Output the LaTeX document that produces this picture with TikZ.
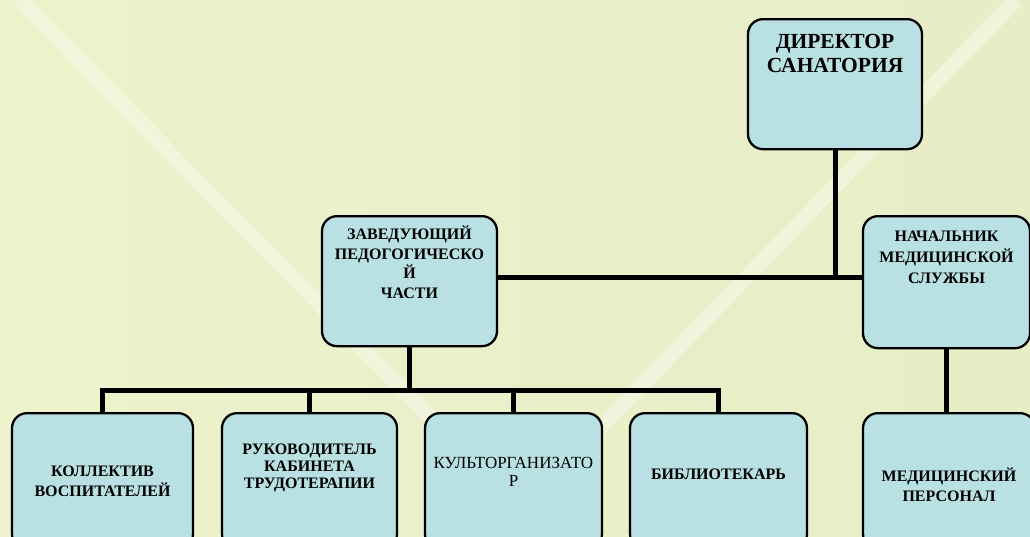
\documentclass[tikz,border=0pt]{standalone}
\usepackage{fontspec}
\setmainfont{Liberation Serif}
\definecolor{paperleft}{HTML}{EDF2CB}
\definecolor{paperright}{HTML}{E6EEC6}
\definecolor{paperlight}{HTML}{F3F6E1}
\definecolor{postblue}{HTML}{B9E0E3}
\tikzset{
  post/.style 2 args={draw=black, line width=2.3pt, fill=postblue, rounded corners=15pt, anchor=north, align=center, inner xsep=2pt, inner ysep=0pt, text height=#1, text depth=#2, font=\fontsize{16}{18}\selectfont\bfseries},
  link/.style={line width=5pt},
  stripe/.style={paperlight, line width=15pt, opacity=0.8}
}
\begin{document}
\begin{tikzpicture}[x=1pt, y=-1pt]
		\useasboundingbox (0, 0) rectangle (1030, 536);
		\clip (0, 0) rectangle (1030, 536);
		\shade[left color=paperleft, right color=paperright] (0, 0) rectangle (1030, 536);
		\draw[stripe] (20, 0) -- (580, 570);
		\draw[stripe] (1016, 0) -- (462, 570);
		\node[post={53pt}{77pt}, minimum width=174pt, font=\fontsize{21.5}{24}\selectfont\bfseries] (director) at (835, 18) {ДИРЕКТОР\\САНАТОРИЯ};
		\node[post={82pt}{48pt}, minimum width=175pt, font=\fontsize{16}{19.5}\selectfont\bfseries] (pedhead) at (409.5, 215) {ЗАВЕДУЮЩИЙ\\ПЕДОГОГИЧЕСКО\\Й\\ЧАСТИ};
		\node[post={67pt}{65pt}, minimum width=167pt, font=\fontsize{16}{21}\selectfont\bfseries] (medhead) at (946.5, 215) {НАЧАЛЬНИК\\МЕДИЦИНСКОЙ\\СЛУЖБЫ};
		\node[post={83pt}{53pt}, minimum width=181pt, font=\fontsize{16}{20}\selectfont\bfseries] (educators) at (102.5, 412) {КОЛЛЕКТИВ\\ВОСПИТАТЕЛЕЙ};
		\node[post={75pt}{61pt}, minimum width=175pt, font=\fontsize{16}{17}\selectfont\bfseries] (workshop) at (309.5, 412) {РУКОВОДИТЕЛЬ\\КАБИНЕТА\\ТРУДОТЕРАПИИ};
		\node[post={73pt}{63pt}, minimum width=177pt, font=\fontsize{17}{18}\selectfont] (organiser) at (513.5, 412) {КУЛЬТОРГАНИЗАТО\\Р};
		\node[post={66pt}{70pt}, minimum width=177pt] (librarian) at (718.5, 412) {БИБЛИОТЕКАРЬ};
		\node[post={88pt}{48pt}, minimum width=172pt, font=\fontsize{16}{20}\selectfont\bfseries] (medstaff) at (949, 412) {МЕДИЦИНСКИЙ\\ПЕРСОНАЛ};
		\coordinate (hub) at (833, 277);
		\coordinate (bus) at (408, 390);
		\draw[link] (pedhead.east |- hub) -- (medhead.west |- hub);
		\draw[link] (director.south) -- (director.south |- hub);
		\draw[link] (pedhead.south) -- (pedhead.south |- bus);
		\draw[link] (educators.north) -- (educators.north |- bus) -- (librarian.north |- bus) -- (librarian.north);
		\draw[link] (workshop.north) -- (workshop.north |- bus);
		\draw[link] (organiser.north) -- (organiser.north |- bus);
		\draw[link] (medhead.south) -- (medhead.south |- medstaff.north);
	\end{tikzpicture}
\end{document}
